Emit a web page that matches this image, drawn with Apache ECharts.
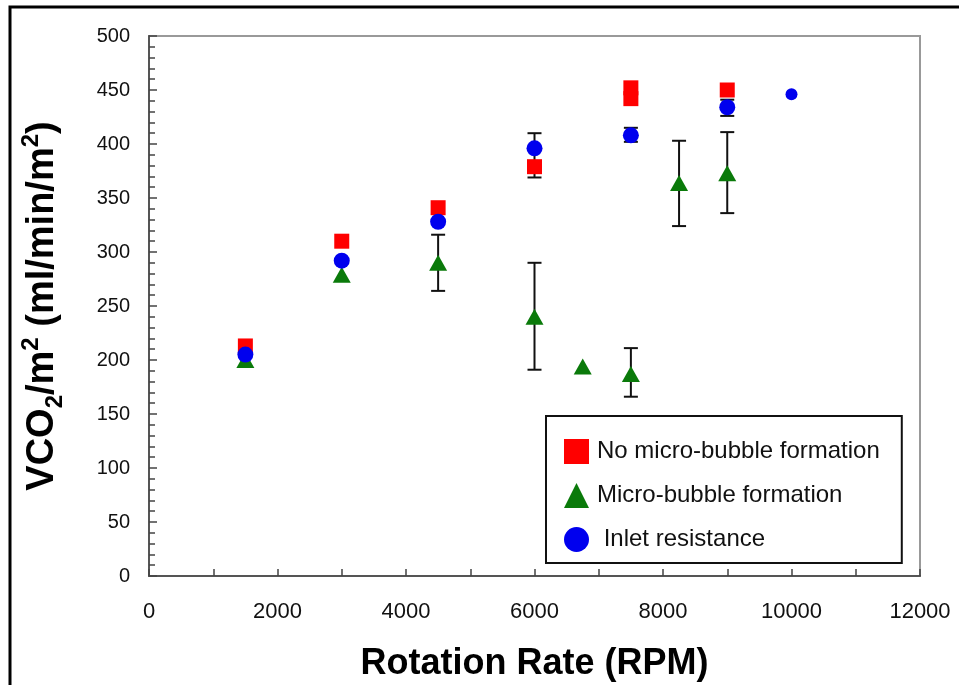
<!DOCTYPE html>
<html>
<head>
<meta charset="utf-8">
<script src="https://cdn.jsdelivr.net/npm/echarts@6/dist/echarts.min.js"></script>
<style>
  html, body { margin: 0; padding: 0; background: #fff; }
  #chart { width: 959px; height: 685px; }
</style>
</head>
<body>
<div id="chart"></div>
<script>
// rpm, VCO2/m2
const noBubble = [[1500, 213], [3000, 310], [4500, 341], [6000, 379], [7500, 452], [7500, 442], [9000, 450]];
const microBubble = [[1500, 200], [3000, 279], [4500, 290], [6000, 240], [6750, 194], [7500, 187], [8250, 364], [9000, 373]];
const inlet = [[1500, 205], [3000, 292], [4500, 328], [6000, 396], [7500, 408], [9000, 434], [10000, 446]];

// error bars: rpm, low, high
const inletErr = [[6000, 369, 410], [7500, 402, 415], [9000, 426, 441]];
const microErr = [[4500, 264, 316], [6000, 191, 290], [7500, 166, 211], [8250, 324, 403], [9000, 336, 411]];

const chart = echarts.init(document.getElementById('chart'));

function errorBar(params, api) {
  const x = api.value(0);
  const lo = api.coord([x, api.value(1)]);
  const hi = api.coord([x, api.value(2)]);
  const w = 7;
  const style = { stroke: '#111', lineWidth: 2 };
  return {
    type: 'group',
    children: [
      { type: 'line', shape: { x1: lo[0], y1: lo[1], x2: hi[0], y2: hi[1] }, style },
      { type: 'line', shape: { x1: lo[0] - w, y1: lo[1], x2: lo[0] + w, y2: lo[1] }, style },
      { type: 'line', shape: { x1: hi[0] - w, y1: hi[1], x2: hi[0] + w, y2: hi[1] }, style }
    ]
  };
}

const font = "'Liberation Sans', Arial, sans-serif";

const option = {
  backgroundColor: '#fff',
  animation: false,
  graphic: [{
    type: 'rect',
    shape: { x: 10, y: 7, width: 1000, height: 700 },
    style: { fill: null, stroke: '#000', lineWidth: 3 },
    silent: true
  }],
  grid: {
    left: 149, right: 39, top: 36, bottom: 109,
    outerBoundsMode: 'none',
    show: true, borderColor: '#999', borderWidth: 2
  },
  legend: {
    orient: 'vertical',
    left: 546, top: 416,
    itemWidth: 25, itemHeight: 25, itemGap: 19,
    padding: [23, 22, 11, 18],
    borderColor: '#111', borderWidth: 2,
    backgroundColor: '#fff',
    textStyle: { fontFamily: font, fontSize: 24, color: '#111', padding: [0, 0, 0, 3] },
    data: [
      { name: 'No micro-bubble formation', icon: 'rect' },
      { name: 'Micro-bubble formation', icon: 'triangle' },
      { name: ' Inlet resistance', icon: 'circle' }
    ]
  },
  xAxis: {
    type: 'value',
    min: 0, max: 12000, interval: 2000,
    name: 'Rotation Rate (RPM)',
    nameLocation: 'middle',
    nameGap: 70,
    nameTextStyle: { fontFamily: font, fontSize: 36, fontWeight: 'bold', color: '#000' },
    axisLine: { lineStyle: { color: '#555', width: 2 } },
    axisTick: { inside: true, length: 7, lineStyle: { color: '#444', width: 1.5 } },
    minorTick: { show: true, splitNumber: 2, length: 7, lineStyle: { color: '#444', width: 1.5 } },
    axisLabel: { margin: 25, fontFamily: font, fontSize: 22, color: '#111', formatter: v => String(v) },
    splitLine: { show: false }
  },
  yAxis: {
    type: 'value',
    min: 0, max: 500, interval: 50,
    name: '{b|VCO}{sub|2}{b|/m}{sup|2}{b| (ml/min/m}{sup|2}{b|)}',
    nameLocation: 'middle',
    nameRotate: 90,
    nameGap: 82,
    nameTextStyle: {
      rich: {
        b: { fontFamily: font, fontSize: 38, fontWeight: 'bold', color: '#000', lineHeight: 48 },
        sub: { fontFamily: font, fontSize: 24, fontWeight: 'bold', color: '#000', verticalAlign: 'bottom', lineHeight: 48 },
        sup: { fontFamily: font, fontSize: 24, fontWeight: 'bold', color: '#000', verticalAlign: 'top', lineHeight: 48 }
      }
    },
    axisLine: { lineStyle: { color: '#555', width: 2 } },
    axisTick: { inside: true, length: 8, lineStyle: { color: '#444', width: 1.5 } },
    minorTick: { show: true, splitNumber: 5, length: 6, lineStyle: { color: '#444', width: 1.5 } },
    axisLabel: { margin: 19, fontFamily: font, fontSize: 20, color: '#111' },
    splitLine: { show: false }
  },
  series: [
    {
      type: 'custom', name: 'inletErr', renderItem: errorBar,
      data: inletErr, encode: { x: 0, y: [1, 2] }, z: 1, silent: true
    },
    {
      type: 'custom', name: 'microErr', renderItem: errorBar,
      data: microErr, encode: { x: 0, y: [1, 2] }, z: 1, silent: true
    },
    {
      name: 'Micro-bubble formation', type: 'scatter', data: microBubble,
      symbol: 'triangle', symbolSize: [18, 16],
      itemStyle: { color: '#0a7a0a', opacity: 1 }, z: 3
    },
    {
      name: 'No micro-bubble formation', type: 'scatter', data: noBubble,
      symbol: 'rect', symbolSize: 15,
      itemStyle: { color: '#f00', opacity: 1 }, z: 4
    },
    {
      name: ' Inlet resistance', type: 'scatter', data: inlet,
      symbol: 'circle',
      symbolSize: v => (v[0] === 10000 ? 12 : 16),
      itemStyle: { color: '#0000ee', opacity: 1 }, z: 5
    }
  ]
};

chart.setOption(option);
</script>
</body>
</html>
